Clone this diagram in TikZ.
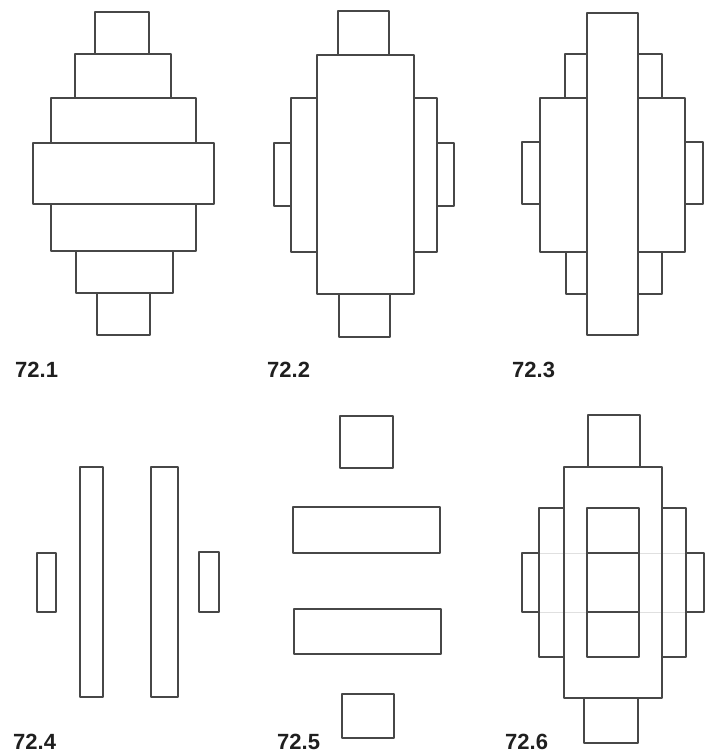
\documentclass[tikz,border=0pt]{standalone}
\usepackage{fontspec}
\setmainfont{Liberation Sans}
\begin{document}
\begin{tikzpicture}[x=1pt,y=-1pt,
  blk/.style={draw=black!72,line width=1.4pt,line join=round},
  faint/.style={draw=black!12,line width=1pt},
  lbl/.style={anchor=north west,inner sep=0pt,font=\bfseries\fontsize{22}{24}\selectfont,text=black!88}]
\useasboundingbox (0,0) rectangle (708,755);
% ---- 72.1 ----
\draw[blk] (95,12) rectangle (149,54);
\draw[blk] (75,54) rectangle (171,98);
\draw[blk] (51,98) rectangle (196,143);
\draw[blk] (33,143) rectangle (214,204);
\draw[blk] (51,204) rectangle (196,251);
\draw[blk] (76,251) rectangle (173,293);
\draw[blk] (97,293) rectangle (150,335);
\node[lbl] (l1) at (15,362) {72.1};
% ---- 72.2 ----
\draw[blk] (338,11) rectangle (389,55);
\draw[blk] (291,98) rectangle (317,252);
\draw[blk] (274,143) rectangle (291,206);
\draw[blk] (414,98) rectangle (437,252);
\draw[blk] (437,143) rectangle (454,206);
\draw[blk] (339,294) rectangle (390,337);
\draw[blk] (317,55) rectangle (414,294);
\node[lbl] (l2) at (267,362) {72.2};
% ---- 72.3 ----
\draw[blk] (565,54) rectangle (587,98);
\draw[blk] (638,54) rectangle (662,98);
\draw[blk] (540,98) rectangle (587,252);
\draw[blk] (638,98) rectangle (685,252);
\draw[blk] (522,142) rectangle (540,204);
\draw[blk] (685,142) rectangle (703,204);
\draw[blk] (566,252) rectangle (587,294);
\draw[blk] (638,252) rectangle (662,294);
\draw[blk] (587,13) rectangle (638,335);
\node[lbl] (l3) at (512,362) {72.3};
% ---- 72.4 ----
\draw[blk] (37,553) rectangle (56,612);
\draw[blk] (80,467) rectangle (103,697);
\draw[blk] (151,467) rectangle (178,697);
\draw[blk] (199,552) rectangle (219,612);
\node[lbl] (l4) at (13,734) {72.4};
% ---- 72.5 ----
\draw[blk] (340,416) rectangle (393,468);
\draw[blk] (293,507) rectangle (440,553);
\draw[blk] (294,609) rectangle (441,654);
\draw[blk] (342,694) rectangle (394,738);
\node[lbl] (l5) at (277,734) {72.5};
% ---- 72.6 ----
\draw[faint] (539,553) -- (686,553);
\draw[faint] (539,612) -- (686,612);
\draw[blk] (588,415) rectangle (640,467);
\draw[blk] (539,508) rectangle (564,657);
\draw[blk] (662,508) rectangle (686,657);
\draw[blk] (522,553) rectangle (539,612);
\draw[blk] (686,553) rectangle (704,612);
\draw[blk] (564,467) rectangle (662,698);
\draw[blk] (587,508) rectangle (639,657);
\draw[blk] (587,553) -- (639,553);
\draw[blk] (587,612) -- (639,612);
\draw[blk] (584,698) rectangle (638,743);
\node[lbl] (l6) at (505,734) {72.6};
\end{tikzpicture}
\end{document}
